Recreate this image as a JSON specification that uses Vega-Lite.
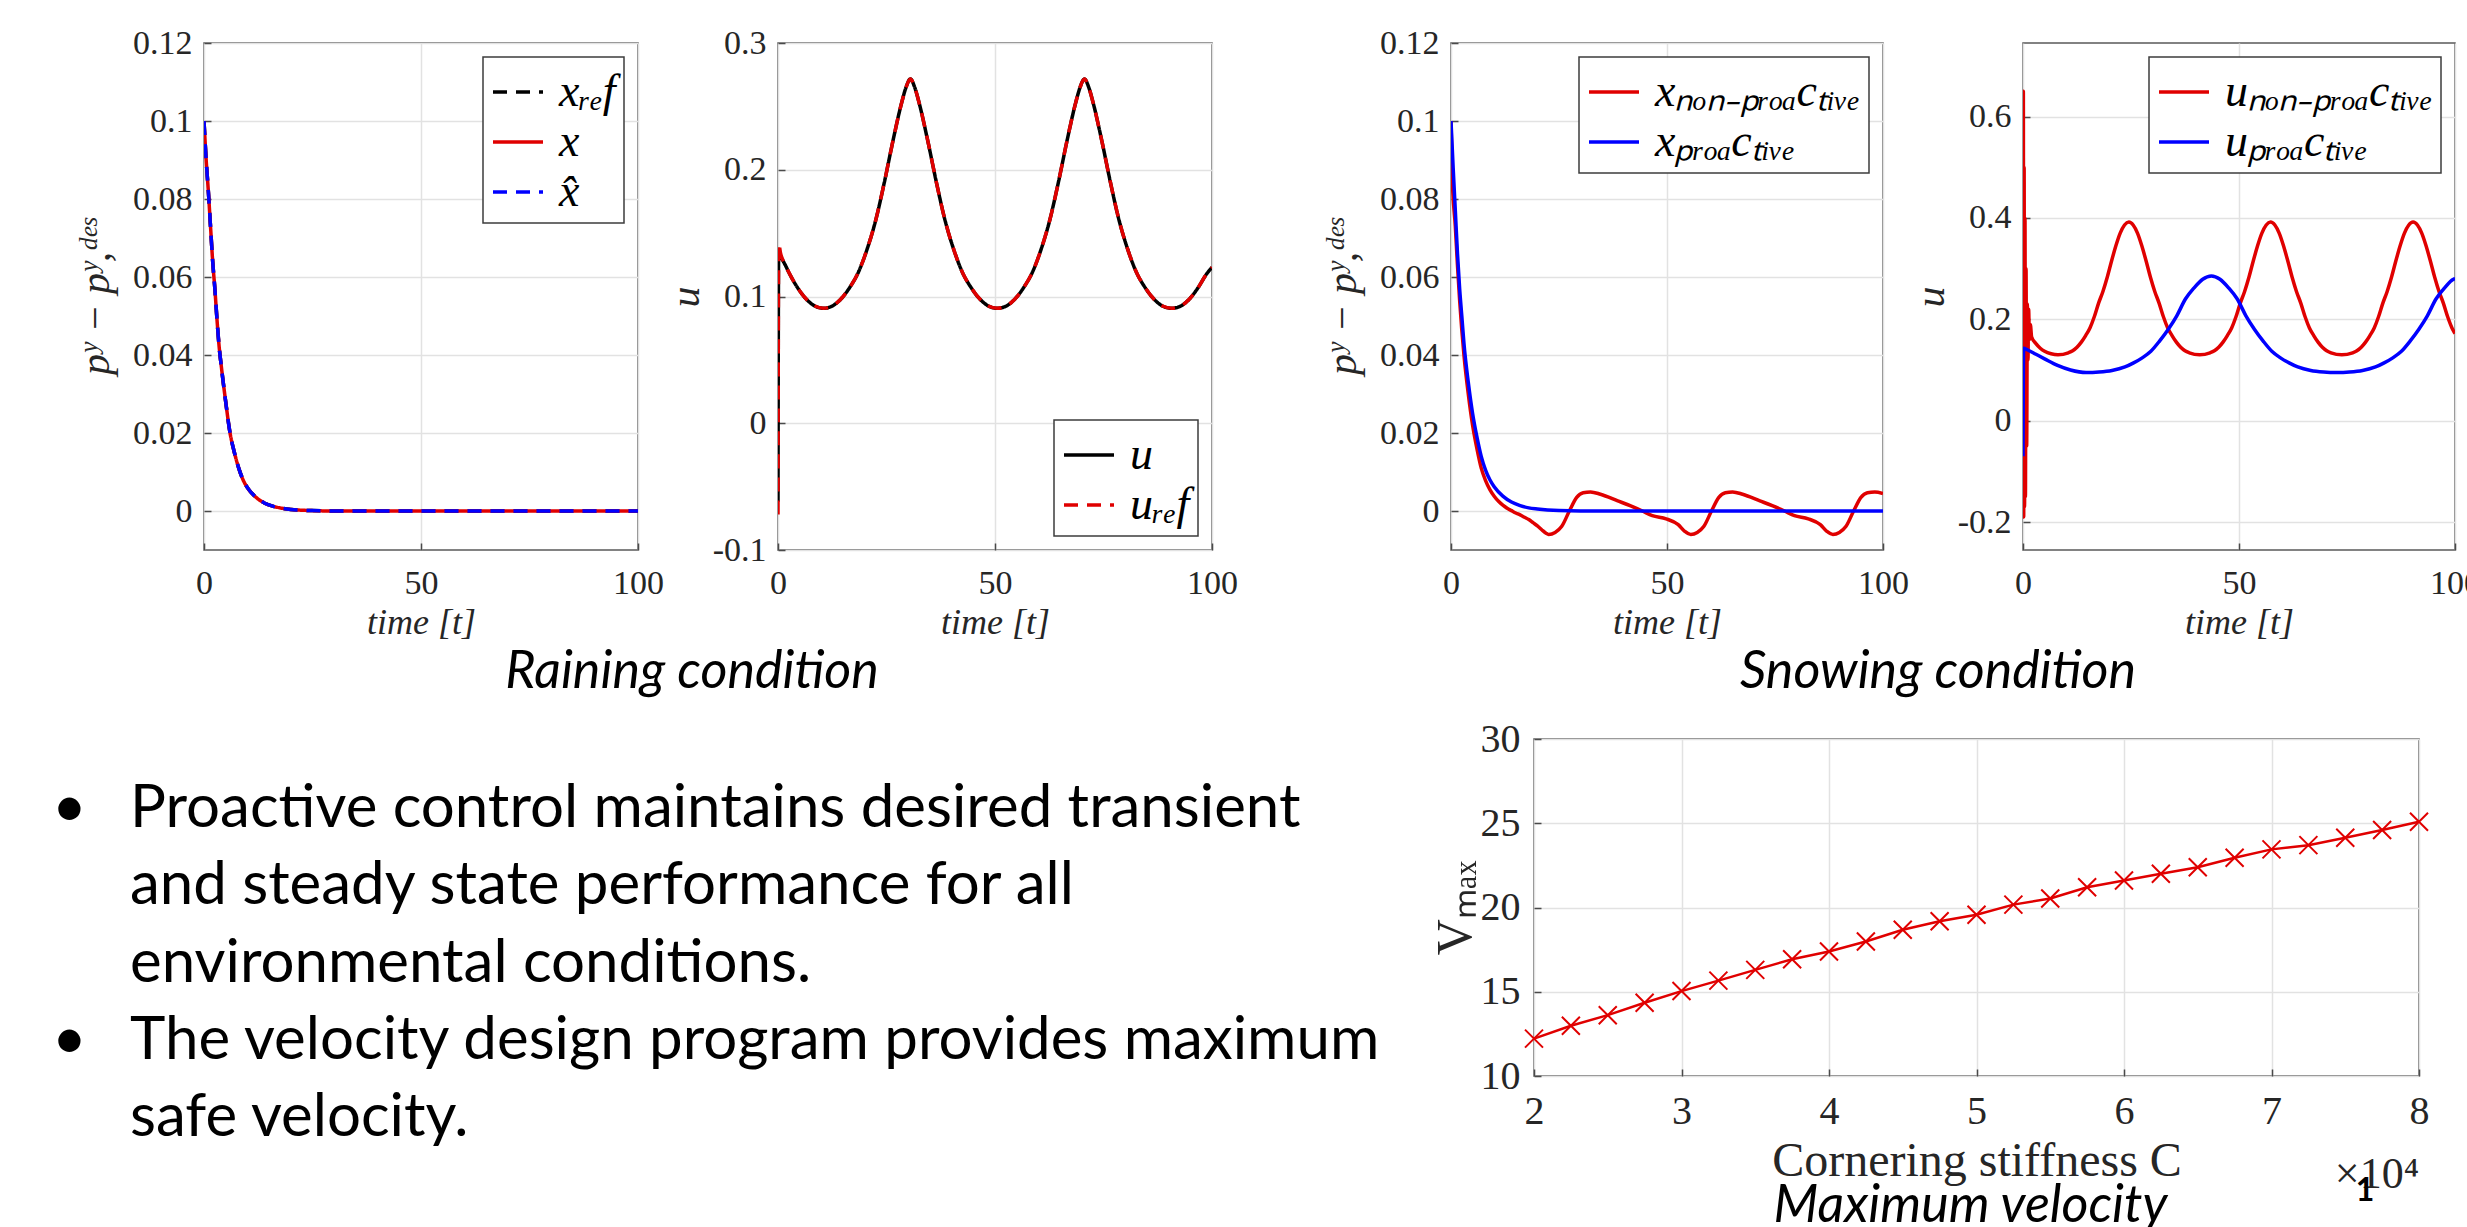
{
  "$schema": "https://vega.github.io/schema/vega-lite/v6.json",
  "background": "white",
  "padding": {"left": 52, "top": 25, "right": 0, "bottom": 0},
  "spacing": 19,
  "config": {
    "view": {"stroke": "#5a5a5a", "strokeWidth": 1.5},
    "axis": {
      "domain": false, "grid": true, "gridColor": "#e2e2e2", "gridWidth": 1.5,
      "ticks": true, "tickColor": "#4a4a4a", "tickSize": -7, "tickWidth": 1.5,
      "labelFont": "Liberation Serif", "labelFontSize": 34, "labelColor": "#262626",
      "labelFlush": false, "labelOverlap": false,
      "titleFont": "Liberation Serif", "titleFontStyle": "italic", "titleFontWeight": "normal",
      "titleFontSize": 36, "titleColor": "#262626"
    },
    "axisX": {"labelPadding": 23, "titlePadding": 5},
    "axisY": {"labelPadding": 19, "titlePadding": 15},
    "legend": {
      "fillColor": "white", "strokeColor": "#3c3c3c", "strokeWidth": 1.5, "padding": 8, "offset": 14,
      "labelFont": "Liberation Serif", "labelFontStyle": "italic", "labelFontSize": 46, "labelColor": "#000000",
      "labelLimit": 0, "labelOffset": 14, "symbolSize": 2500, "symbolStrokeWidth": 3.5, "symbolType": "stroke", "rowPadding": 0
    },
    "title": {"font": "Lato", "fontSize": 52, "fontStyle": "italic", "fontWeight": "normal", "color": "#000000"}
  },
  "vconcat": [
    {
      "hconcat": [
        {"width": 152, "height": 507, "view": {"stroke": null}, "data": {"values": []}, "mark": "point", "encoding": {}},
        {
          "width": 434, "height": 507,
          "data": {"values": [
            {"t":0,"ref":0.1,"x":0.1,"xhat":0.1},{"t":0.5,"ref":0.09,"x":0.09,"xhat":0.09},{"t":1,"ref":0.082,"x":0.082,"xhat":0.082},
            {"t":1.5,"ref":0.073,"x":0.073,"xhat":0.073},{"t":2,"ref":0.064,"x":0.064,"xhat":0.064},{"t":2.5,"ref":0.057,"x":0.057,"xhat":0.057},
            {"t":3,"ref":0.049,"x":0.049,"xhat":0.049},{"t":3.5,"ref":0.042,"x":0.042,"xhat":0.042},{"t":4,"ref":0.037,"x":0.037,"xhat":0.037},
            {"t":5,"ref":0.028,"x":0.028,"xhat":0.028},{"t":6,"ref":0.02,"x":0.02,"xhat":0.02},{"t":7,"ref":0.015,"x":0.015,"xhat":0.015},
            {"t":8,"ref":0.011,"x":0.011,"xhat":0.011},{"t":9,"ref":0.008,"x":0.008,"xhat":0.008},{"t":10,"ref":0.006,"x":0.006,"xhat":0.006},
            {"t":12,"ref":0.0035,"x":0.0035,"xhat":0.0035},{"t":14,"ref":0.002,"x":0.002,"xhat":0.002},{"t":16,"ref":0.0012,"x":0.0012,"xhat":0.0012},
            {"t":18,"ref":0.0007,"x":0.0007,"xhat":0.0007},{"t":20,"ref":0.0004,"x":0.0004,"xhat":0.0004},{"t":25,"ref":0.0001,"x":0.0001,"xhat":0.0001},
            {"t":30,"ref":0,"x":0,"xhat":0},{"t":40,"ref":0,"x":0,"xhat":0},{"t":50,"ref":0,"x":0,"xhat":0},{"t":60,"ref":0,"x":0,"xhat":0},
            {"t":70,"ref":0,"x":0,"xhat":0},{"t":80,"ref":0,"x":0,"xhat":0},{"t":90,"ref":0,"x":0,"xhat":0},{"t":100,"ref":0,"x":0,"xhat":0}
          ]},
          "transform": [{"fold": ["ref", "x", "xhat"], "as": ["s", "v"]}],
          "title": {"text": "Raining condition", "orient": "bottom", "anchor": "middle", "dx": 271, "offset": 7},
          "mark": {"type": "line", "clip": true, "interpolate": "monotone", "strokeWidth": 3.5},
          "encoding": {
            "x": {"field": "t", "type": "quantitative", "scale": {"domain": [0, 100], "nice": false}, "axis": {"values": [0, 50, 100], "title": "time [t]"}},
            "y": {"field": "v", "type": "quantitative", "scale": {"domain": [-0.01, 0.12], "nice": false, "zero": false},
                  "axis": {"values": [0, 0.02, 0.04, 0.06, 0.08, 0.1, 0.12], "title": "pʸ − pʸ,ᵈᵉˢ", "titleFontSize": 42, "labelExpr": "replace(format(datum.value, '~g'), '−', '-')"}},
            "color": {"field": "s", "type": "nominal", "scale": {"domain": ["ref", "x", "xhat"], "range": ["#000000", "#e00000", "#0000ff"]},
                      "legend": {"title": null, "orient": "top-right", "labelExpr": "datum.label == 'ref' ? 'xᵣₑf' : (datum.label == 'xhat' ? 'x̂' : 'x')"}},
            "strokeDash": {"field": "s", "type": "nominal", "scale": {"domain": ["ref", "x", "xhat"], "range": [[14, 9], [1, 0], [14, 9]]},
                      "legend": {"title": null, "orient": "top-right", "labelExpr": "datum.label == 'ref' ? 'xᵣₑf' : (datum.label == 'xhat' ? 'x̂' : 'x')"}}
          }
        },
        {"width": 140, "height": 507, "view": {"stroke": null}, "data": {"values": []}, "mark": "point", "encoding": {}},
        {
          "width": 434, "height": 507,
          "data": {"values": [
            {"t":0,"u":-0.062,"uref":-0.072},{"t":0.15,"u":0.132,"uref":0.142},{"t":0.6,"u":0.131,"uref":0.134},{"t":1.5,"u":0.126,"uref":0.126},
            {"t":2.5,"u":0.119,"uref":0.119},{"t":4.5,"u":0.107,"uref":0.107},{"t":6.5,"u":0.098,"uref":0.098},{"t":8.5,"u":0.0925,"uref":0.0925},
            {"t":10.5,"u":0.0907,"uref":0.0907},{"t":12.5,"u":0.0925,"uref":0.0925},{"t":14.5,"u":0.098,"uref":0.098},{"t":16.5,"u":0.107,"uref":0.107},
            {"t":18.5,"u":0.119,"uref":0.119},{"t":20.5,"u":0.137,"uref":0.137},{"t":22.5,"u":0.16,"uref":0.16},{"t":24.5,"u":0.19,"uref":0.19},
            {"t":26.5,"u":0.223,"uref":0.223},{"t":28.5,"u":0.253,"uref":0.253},{"t":29.5,"u":0.265,"uref":0.265},{"t":30.5,"u":0.2716,"uref":0.2716},
            {"t":31.5,"u":0.265,"uref":0.265},{"t":32.5,"u":0.253,"uref":0.253},{"t":34.5,"u":0.223,"uref":0.223},{"t":36.5,"u":0.19,"uref":0.19},
            {"t":38.5,"u":0.16,"uref":0.16},{"t":40.5,"u":0.137,"uref":0.137},{"t":42.5,"u":0.119,"uref":0.119},{"t":44.5,"u":0.107,"uref":0.107},
            {"t":46.5,"u":0.098,"uref":0.098},{"t":48.5,"u":0.0925,"uref":0.0925},{"t":50.5,"u":0.0907,"uref":0.0907},{"t":52.6,"u":0.0925,"uref":0.0925},
            {"t":54.6,"u":0.098,"uref":0.098},{"t":56.6,"u":0.107,"uref":0.107},{"t":58.6,"u":0.119,"uref":0.119},{"t":60.6,"u":0.137,"uref":0.137},
            {"t":62.6,"u":0.16,"uref":0.16},{"t":64.6,"u":0.19,"uref":0.19},{"t":66.6,"u":0.223,"uref":0.223},{"t":68.6,"u":0.253,"uref":0.253},
            {"t":69.6,"u":0.265,"uref":0.265},{"t":70.6,"u":0.2716,"uref":0.2716},{"t":71.6,"u":0.265,"uref":0.265},{"t":72.6,"u":0.253,"uref":0.253},
            {"t":74.6,"u":0.223,"uref":0.223},{"t":76.6,"u":0.19,"uref":0.19},{"t":78.6,"u":0.16,"uref":0.16},{"t":80.6,"u":0.137,"uref":0.137},
            {"t":82.6,"u":0.119,"uref":0.119},{"t":84.6,"u":0.107,"uref":0.107},{"t":86.6,"u":0.098,"uref":0.098},{"t":88.6,"u":0.0925,"uref":0.0925},
            {"t":90.7,"u":0.0907,"uref":0.0907},{"t":92.8,"u":0.0925,"uref":0.0925},{"t":94.8,"u":0.098,"uref":0.098},{"t":96.8,"u":0.107,"uref":0.107},
            {"t":98.8,"u":0.118,"uref":0.118},{"t":100,"u":0.123,"uref":0.123}
          ]},
          "transform": [{"fold": ["u", "uref"], "as": ["s", "v"]}],
          "mark": {"type": "line", "clip": true, "interpolate": "monotone", "strokeWidth": 3.5},
          "encoding": {
            "x": {"field": "t", "type": "quantitative", "scale": {"domain": [0, 100], "nice": false}, "axis": {"values": [0, 50, 100], "title": "time [t]"}},
            "y": {"field": "v", "type": "quantitative", "scale": {"domain": [-0.1, 0.3], "nice": false, "zero": false},
                  "axis": {"values": [-0.1, 0, 0.1, 0.2, 0.3], "title": "u", "titleFontSize": 42, "titlePadding": 5, "labelExpr": "replace(format(datum.value, '~g'), '−', '-')"}},
            "color": {"field": "s", "type": "nominal", "scale": {"domain": ["u", "uref"], "range": ["#000000", "#e00000"]},
                      "legend": {"title": null, "orient": "bottom-right", "labelExpr": "datum.label == 'uref' ? 'uᵣₑf' : 'u'"}},
            "strokeDash": {"field": "s", "type": "nominal", "scale": {"domain": ["u", "uref"], "range": [[1, 0], [14, 9]]},
                      "legend": {"title": null, "orient": "bottom-right", "labelExpr": "datum.label == 'uref' ? 'uᵣₑf' : 'u'"}}
          }
        },
        {"width": 239, "height": 507, "view": {"stroke": null}, "data": {"values": []}, "mark": "point", "encoding": {}},
        {
          "width": 432, "height": 507,
          "data": {"values": [
            {"t":0,"v":0.1,"s":"np"},{"t":0.3,"v":0.085,"s":"np"},{"t":1,"v":0.073,"s":"np"},{"t":1.5,"v":0.063,"s":"np"},{"t":2,"v":0.054,"s":"np"},
            {"t":3,"v":0.04,"s":"np"},{"t":4,"v":0.03,"s":"np"},{"t":5,"v":0.022,"s":"np"},{"t":6,"v":0.016,"s":"np"},{"t":7,"v":0.011,"s":"np"},
            {"t":8,"v":0.0078,"s":"np"},{"t":9,"v":0.0055,"s":"np"},{"t":10,"v":0.0038,"s":"np"},{"t":11,"v":0.0025,"s":"np"},{"t":12,"v":0.0015,"s":"np"},
            {"t":13,"v":0.0007,"s":"np"},{"t":14,"v":0.0001,"s":"np"},{"t":15,"v":-0.0005,"s":"np"},{"t":16,"v":-0.001,"s":"np"},{"t":17,"v":-0.0016,"s":"np"},
            {"t":18,"v":-0.0022,"s":"np"},{"t":19,"v":-0.003,"s":"np"},{"t":20,"v":-0.0038,"s":"np"},{"t":21,"v":-0.0048,"s":"np"},{"t":22,"v":-0.0057,"s":"np"},
            {"t":22.6,"v":-0.006,"s":"np"},{"t":24.1,"v":-0.0055,"s":"np"},{"t":25.6,"v":-0.004,"s":"np"},{"t":27.4,"v":0,"s":"np"},{"t":29.1,"v":0.0035,"s":"np"},
            {"t":30.6,"v":0.0047,"s":"np"},{"t":32.3,"v":0.0049,"s":"np"},{"t":34.6,"v":0.0043,"s":"np"},{"t":38.6,"v":0.0026,"s":"np"},{"t":41.6,"v":0.0013,"s":"np"},
            {"t":44.3,"v":0,"s":"np"},{"t":46.6,"v":-0.0012,"s":"np"},{"t":49.8,"v":-0.002,"s":"np"},{"t":52.6,"v":-0.0035,"s":"np"},{"t":54.1,"v":-0.0052,"s":"np"},
            {"t":55.5,"v":-0.006,"s":"np"},{"t":57,"v":-0.0055,"s":"np"},{"t":58.5,"v":-0.004,"s":"np"},{"t":60.3,"v":0,"s":"np"},{"t":62,"v":0.0035,"s":"np"},
            {"t":63.5,"v":0.0047,"s":"np"},{"t":65.2,"v":0.0049,"s":"np"},{"t":67.5,"v":0.0043,"s":"np"},{"t":71.5,"v":0.0026,"s":"np"},{"t":74.5,"v":0.0013,"s":"np"},
            {"t":77.2,"v":0,"s":"np"},{"t":79.5,"v":-0.0012,"s":"np"},{"t":82.7,"v":-0.002,"s":"np"},{"t":85.5,"v":-0.0035,"s":"np"},{"t":87,"v":-0.0052,"s":"np"},
            {"t":88.4,"v":-0.006,"s":"np"},{"t":89.9,"v":-0.0055,"s":"np"},{"t":91.4,"v":-0.004,"s":"np"},{"t":93.2,"v":0,"s":"np"},{"t":94.9,"v":0.0035,"s":"np"},
            {"t":96.4,"v":0.0047,"s":"np"},{"t":98.1,"v":0.0049,"s":"np"},{"t":100,"v":0.0045,"s":"np"},
            {"t":0,"v":0.1,"s":"p"},{"t":0.5,"v":0.088,"s":"p"},{"t":1,"v":0.077,"s":"p"},{"t":1.5,"v":0.066,"s":"p"},{"t":2,"v":0.057,"s":"p"},
            {"t":2.5,"v":0.05,"s":"p"},{"t":3,"v":0.043,"s":"p"},{"t":4,"v":0.033,"s":"p"},{"t":5,"v":0.025,"s":"p"},{"t":6,"v":0.019,"s":"p"},
            {"t":7,"v":0.014,"s":"p"},{"t":8,"v":0.0105,"s":"p"},{"t":9,"v":0.008,"s":"p"},{"t":10,"v":0.0062,"s":"p"},{"t":12,"v":0.0038,"s":"p"},
            {"t":14,"v":0.0023,"s":"p"},{"t":16,"v":0.0014,"s":"p"},{"t":18,"v":0.0008,"s":"p"},{"t":20,"v":0.0005,"s":"p"},{"t":25,"v":0.0001,"s":"p"},
            {"t":30,"v":0,"s":"p"},{"t":50,"v":0,"s":"p"},{"t":75,"v":0,"s":"p"},{"t":100,"v":0,"s":"p"}
          ]},
          "title": {"text": "Snowing condition", "orient": "bottom", "anchor": "middle", "dx": 271, "offset": 7},
          "mark": {"type": "line", "clip": true, "interpolate": "monotone", "strokeWidth": 3.5},
          "encoding": {
            "x": {"field": "t", "type": "quantitative", "scale": {"domain": [0, 100], "nice": false}, "axis": {"values": [0, 50, 100], "title": "time [t]"}},
            "y": {"field": "v", "type": "quantitative", "scale": {"domain": [-0.01, 0.12], "nice": false, "zero": false},
                  "axis": {"values": [0, 0.02, 0.04, 0.06, 0.08, 0.1, 0.12], "title": "pʸ − pʸ,ᵈᵉˢ", "titleFontSize": 42, "labelExpr": "replace(format(datum.value, '~g'), '−', '-')"}},
            "color": {"field": "s", "type": "nominal", "scale": {"domain": ["np", "p"], "range": ["#e00000", "#0000ff"]},
                      "legend": {"title": null, "orient": "top-right", "labelExpr": "datum.label == 'np' ? 'xₙₒₙ₋ₚᵣₒₐcₜᵢᵥₑ' : 'xₚᵣₒₐcₜᵢᵥₑ'"}}
          }
        },
        {"width": 140, "height": 507, "view": {"stroke": null}, "data": {"values": []}, "mark": "point", "encoding": {}},
        {
          "width": 432, "height": 507,
          "data": {"values": [
            {"t":0,"v":-0.18,"s":"np"},{"t":0.08,"v":0.65,"s":"np"},{"t":0.16,"v":-0.19,"s":"np"},{"t":0.26,"v":0.5,"s":"np"},{"t":0.36,"v":-0.17,"s":"np"},
            {"t":0.46,"v":0.4,"s":"np"},{"t":0.56,"v":-0.15,"s":"np"},{"t":0.7,"v":0.3,"s":"np"},{"t":0.85,"v":-0.05,"s":"np"},{"t":1,"v":0.23,"s":"np"},
            {"t":1.15,"v":0.12,"s":"np"},{"t":1.3,"v":0.22,"s":"np"},{"t":1.5,"v":0.16,"s":"np"},{"t":1.7,"v":0.19,"s":"np"},{"t":2,"v":0.165,"s":"np"},
            {"t":3,"v":0.152,"s":"np"},{"t":4,"v":0.143,"s":"np"},{"t":5,"v":0.137,"s":"np"},{"t":6.5,"v":0.132,"s":"np"},{"t":8.1,"v":0.13,"s":"np"},
            {"t":10.5,"v":0.134,"s":"np"},{"t":11.5,"v":0.138,"s":"np"},{"t":12.5,"v":0.145,"s":"np"},{"t":13.5,"v":0.155,"s":"np"},{"t":14.5,"v":0.168,"s":"np"},
            {"t":15.5,"v":0.183,"s":"np"},{"t":16.5,"v":0.205,"s":"np"},{"t":17.5,"v":0.232,"s":"np"},{"t":18.5,"v":0.255,"s":"np"},{"t":19.5,"v":0.283,"s":"np"},
            {"t":20.5,"v":0.315,"s":"np"},{"t":21.5,"v":0.345,"s":"np"},{"t":22.5,"v":0.37,"s":"np"},{"t":23.5,"v":0.386,"s":"np"},{"t":24.5,"v":0.392,"s":"np"},
            {"t":25.5,"v":0.386,"s":"np"},{"t":26.5,"v":0.37,"s":"np"},{"t":27.5,"v":0.345,"s":"np"},{"t":28.5,"v":0.315,"s":"np"},{"t":29.5,"v":0.283,"s":"np"},
            {"t":30.5,"v":0.255,"s":"np"},{"t":31.5,"v":0.232,"s":"np"},{"t":32.5,"v":0.205,"s":"np"},{"t":33.5,"v":0.183,"s":"np"},{"t":34.5,"v":0.168,"s":"np"},
            {"t":35.5,"v":0.155,"s":"np"},{"t":36.5,"v":0.145,"s":"np"},{"t":37.5,"v":0.138,"s":"np"},{"t":38.5,"v":0.134,"s":"np"},{"t":40.9,"v":0.13,"s":"np"},
            {"t":43.3,"v":0.134,"s":"np"},{"t":44.3,"v":0.138,"s":"np"},{"t":45.3,"v":0.145,"s":"np"},{"t":46.3,"v":0.155,"s":"np"},{"t":47.3,"v":0.168,"s":"np"},
            {"t":48.3,"v":0.183,"s":"np"},{"t":49.3,"v":0.205,"s":"np"},{"t":50.3,"v":0.232,"s":"np"},{"t":51.3,"v":0.255,"s":"np"},{"t":52.3,"v":0.283,"s":"np"},
            {"t":53.3,"v":0.315,"s":"np"},{"t":54.3,"v":0.345,"s":"np"},{"t":55.3,"v":0.37,"s":"np"},{"t":56.3,"v":0.386,"s":"np"},{"t":57.3,"v":0.392,"s":"np"},
            {"t":58.3,"v":0.386,"s":"np"},{"t":59.3,"v":0.37,"s":"np"},{"t":60.3,"v":0.345,"s":"np"},{"t":61.3,"v":0.315,"s":"np"},{"t":62.3,"v":0.283,"s":"np"},
            {"t":63.3,"v":0.255,"s":"np"},{"t":64.3,"v":0.232,"s":"np"},{"t":65.3,"v":0.205,"s":"np"},{"t":66.3,"v":0.183,"s":"np"},{"t":67.3,"v":0.168,"s":"np"},
            {"t":68.3,"v":0.155,"s":"np"},{"t":69.3,"v":0.145,"s":"np"},{"t":70.3,"v":0.138,"s":"np"},{"t":71.3,"v":0.134,"s":"np"},{"t":73.8,"v":0.13,"s":"np"},
            {"t":76.3,"v":0.134,"s":"np"},{"t":77.3,"v":0.138,"s":"np"},{"t":78.3,"v":0.145,"s":"np"},{"t":79.3,"v":0.155,"s":"np"},{"t":80.3,"v":0.168,"s":"np"},
            {"t":81.3,"v":0.183,"s":"np"},{"t":82.3,"v":0.205,"s":"np"},{"t":83.3,"v":0.232,"s":"np"},{"t":84.3,"v":0.255,"s":"np"},{"t":85.3,"v":0.283,"s":"np"},
            {"t":86.3,"v":0.315,"s":"np"},{"t":87.3,"v":0.345,"s":"np"},{"t":88.3,"v":0.37,"s":"np"},{"t":89.3,"v":0.386,"s":"np"},{"t":90.3,"v":0.392,"s":"np"},
            {"t":91.3,"v":0.386,"s":"np"},{"t":92.3,"v":0.37,"s":"np"},{"t":93.3,"v":0.345,"s":"np"},{"t":94.3,"v":0.315,"s":"np"},{"t":95.3,"v":0.283,"s":"np"},
            {"t":96.3,"v":0.255,"s":"np"},{"t":97.3,"v":0.232,"s":"np"},{"t":98.3,"v":0.205,"s":"np"},{"t":99.3,"v":0.183,"s":"np"},{"t":100,"v":0.172,"s":"np"},
            {"t":0,"v":-0.07,"s":"p"},{"t":0.15,"v":0.143,"s":"p"},{"t":1,"v":0.14,"s":"p"},{"t":3,"v":0.131,"s":"p"},{"t":5,"v":0.122,"s":"p"},
            {"t":8,"v":0.109,"s":"p"},{"t":11,"v":0.1,"s":"p"},{"t":14.6,"v":0.095,"s":"p"},{"t":17.6,"v":0.096,"s":"p"},{"t":20.6,"v":0.099,"s":"p"},
            {"t":23.6,"v":0.106,"s":"p"},{"t":25.6,"v":0.114,"s":"p"},{"t":27.6,"v":0.124,"s":"p"},{"t":29.6,"v":0.137,"s":"p"},{"t":31.6,"v":0.157,"s":"p"},
            {"t":33.6,"v":0.18,"s":"p"},{"t":35.6,"v":0.207,"s":"p"},{"t":37.6,"v":0.24,"s":"p"},{"t":39.6,"v":0.262,"s":"p"},{"t":41.6,"v":0.279,"s":"p"},
            {"t":43.6,"v":0.2855,"s":"p"},{"t":45.6,"v":0.279,"s":"p"},{"t":47.6,"v":0.262,"s":"p"},{"t":49.6,"v":0.24,"s":"p"},{"t":51.6,"v":0.207,"s":"p"},
            {"t":53.6,"v":0.18,"s":"p"},{"t":55.6,"v":0.157,"s":"p"},{"t":57.6,"v":0.137,"s":"p"},{"t":59.6,"v":0.124,"s":"p"},{"t":61.6,"v":0.114,"s":"p"},
            {"t":63.6,"v":0.106,"s":"p"},{"t":66.6,"v":0.099,"s":"p"},{"t":69.6,"v":0.096,"s":"p"},{"t":72.6,"v":0.095,"s":"p"},{"t":75.6,"v":0.096,"s":"p"},
            {"t":78.6,"v":0.099,"s":"p"},{"t":81.6,"v":0.106,"s":"p"},{"t":83.6,"v":0.114,"s":"p"},{"t":85.6,"v":0.124,"s":"p"},{"t":87.6,"v":0.137,"s":"p"},
            {"t":89.6,"v":0.157,"s":"p"},{"t":91.6,"v":0.18,"s":"p"},{"t":93.6,"v":0.207,"s":"p"},{"t":95.6,"v":0.24,"s":"p"},{"t":97.6,"v":0.262,"s":"p"},
            {"t":99.6,"v":0.279,"s":"p"},{"t":100,"v":0.28,"s":"p"}
          ]},
          "mark": {"type": "line", "clip": true, "interpolate": "monotone", "strokeWidth": 3.5},
          "encoding": {
            "x": {"field": "t", "type": "quantitative", "scale": {"domain": [0, 100], "nice": false}, "axis": {"values": [0, 50, 100], "title": "time [t]"}},
            "y": {"field": "v", "type": "quantitative", "scale": {"domain": [-0.255, 0.745], "nice": false, "zero": false},
                  "axis": {"values": [-0.2, 0, 0.2, 0.4, 0.6], "title": "u", "titleFontSize": 42, "titlePadding": 5, "labelExpr": "replace(format(datum.value, '~g'), '−', '-')"}},
            "color": {"field": "s", "type": "nominal", "scale": {"domain": ["np", "p"], "range": ["#e00000", "#0000ff"]},
                      "legend": {"title": null, "orient": "top-right", "labelExpr": "datum.label == 'np' ? 'uₙₒₙ₋ₚᵣₒₐcₜᵢᵥₑ' : 'uₚᵣₒₐcₜᵢᵥₑ'"}}
          }
        }
      ],
      "spacing": 0,
      "bounds": "flush",
      "resolve": {
        "scale": {"color": "independent", "strokeDash": "independent"},
        "legend": {"color": "independent", "strokeDash": "independent"}
      }
    },
    {
      "hconcat": [
        {
          "width": 78, "height": 337, "view": {"stroke": null},
          "data": {"values": [
            {"line": 1, "b": "•", "text": "Proactive control maintains desired transient"},
            {"line": 2, "b": "", "text": "and steady state performance for all"},
            {"line": 3, "b": "", "text": "environmental conditions."},
            {"line": 4, "b": "•", "text": "The velocity design program provides maximum"},
            {"line": 5, "b": "", "text": "safe velocity."}
          ]},
          "layer": [
            {
              "mark": {"type": "text", "align": "left", "baseline": "middle", "font": "Lato", "fontSize": 60, "color": "#000000"},
              "encoding": {
                "x": {"datum": 0, "type": "quantitative", "scale": {"domain": [0, 1], "nice": false, "zero": false}, "axis": null},
                "y": {"field": "line", "type": "quantitative", "scale": {"domain": [0.094, 4.456], "reverse": true, "nice": false, "zero": false}, "axis": null},
                "text": {"field": "b"}
              }
            },
            {
              "mark": {"type": "text", "align": "left", "baseline": "middle", "font": "Lato", "fontSize": 60, "color": "#000000"},
              "encoding": {
                "x": {"datum": 1, "type": "quantitative", "axis": null},
                "y": {"field": "line", "type": "quantitative", "axis": null},
                "text": {"field": "text"}
              }
            }
          ]
        },
        {"width": 1404, "height": 337, "view": {"stroke": null}, "data": {"values": []}, "mark": "point", "encoding": {}},
        {
          "width": 885, "height": 337,
          "title": {"text": "Maximum velocity", "orient": "bottom", "anchor": "middle", "dx": -6, "offset": 0, "dy": -26},
          "layer": [
            {
              "data": {"values": [
                {"C":2,"V":12.22},{"C":2.25,"V":12.98},{"C":2.5,"V":13.61},{"C":2.75,"V":14.35},{"C":3,"V":15.04},
                {"C":3.25,"V":15.66},{"C":3.5,"V":16.3},{"C":3.75,"V":16.93},{"C":4,"V":17.39},{"C":4.25,"V":17.98},
                {"C":4.5,"V":18.68},{"C":4.75,"V":19.18},{"C":5,"V":19.57},{"C":5.25,"V":20.17},{"C":5.5,"V":20.53},
                {"C":5.75,"V":21.2},{"C":6,"V":21.6},{"C":6.25,"V":22.0},{"C":6.5,"V":22.39},{"C":6.75,"V":22.95},
                {"C":7,"V":23.45},{"C":7.25,"V":23.7},{"C":7.5,"V":24.14},{"C":7.75,"V":24.6},{"C":8,"V":25.09}
              ]},
              "mark": {"type": "line", "color": "#e00000", "strokeWidth": 2.5,
                       "point": {"shape": "M-1,-1L1,1M1,-1L-1,1", "filled": false, "size": 324, "strokeWidth": 2, "color": "#e00000"}},
              "encoding": {
                "x": {"field": "C", "type": "quantitative", "scale": {"domain": [2, 8], "nice": false, "zero": false},
                      "axis": {"values": [2, 3, 4, 5, 6, 7, 8], "format": "~g", "title": "Cornering stiffness C", "labelFontSize": 40, "labelPadding": 22,
                               "titleFontStyle": "normal", "titleFontSize": 48, "titlePadding": 6}},
                "y": {"field": "V", "type": "quantitative", "scale": {"domain": [10, 30], "nice": false, "zero": false},
                      "axis": {"values": [10, 15, 20, 25, 30], "format": "~g", "title": "Vₘₐₓ", "labelFontSize": 40, "labelPadding": 21,
                               "titleFontStyle": "normal", "titleFontSize": 50, "titlePadding": 0}}
              }
            },
            {
              "data": {"values": [{}]},
              "mark": {"type": "text", "text": "×10⁴", "align": "right", "baseline": "middle", "font": "Liberation Serif", "fontSize": 44, "color": "#262626"},
              "encoding": {"x": {"datum": 8, "type": "quantitative"}, "y": {"datum": 4.1, "type": "quantitative"}}
            },
            {
              "data": {"values": [{}]},
              "mark": {"type": "text", "text": "1", "align": "center", "baseline": "middle", "font": "Lato", "fontWeight": "bold", "fontSize": 32, "color": "#000000"},
              "encoding": {"x": {"datum": 7.634, "type": "quantitative"}, "y": {"datum": 3.2, "type": "quantitative"}}
            }
          ]
        }
      ],
      "spacing": 0,
      "bounds": "flush"
    }
  ]
}
